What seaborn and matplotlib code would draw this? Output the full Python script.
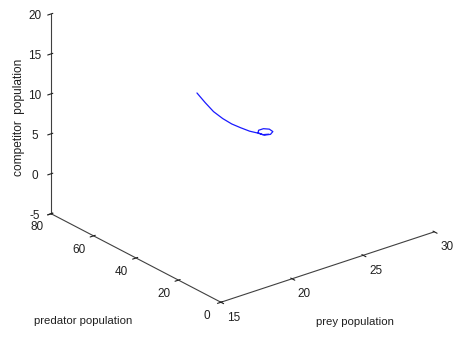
import numpy as np
import pandas as pd
import matplotlib
matplotlib.use("Agg")
import matplotlib.pyplot as plt
import matplotlib.transforms as mtransforms
import seaborn as sns

# trajectory
prey = [19.7, 19.45, 19.27, 19.29, 19.43, 19.70, 20.0, 20.3, 20.52, 20.9, 21.23, 21.28, 21.03, 20.66, 20.43, 20.47, 20.8]
predator = [42.8, 37.2, 32.1, 27.9, 24.6, 22.2, 20.0, 18.7, 16.4, 16.2, 17.3, 19.3, 20.4, 20.2, 18.9, 17.0, 16.4]
competitor = [12.5, 12.2, 11.9, 11.6, 11.3, 11.0, 10.7, 10.5, 10.4, 10.3, 10.3, 10.3, 10.35, 10.4, 10.4, 10.4, 10.35]

prey_ticks = [15, 20, 25, 30]
predator_ticks = [0, 20, 40, 60, 80]
competitor_ticks = [-5, 0, 5, 10, 15, 20]

df = pd.DataFrame({"prey": prey, "predator": predator, "competitor": competitor})

sns.set_style("white")
plt.rcParams['font.family'] = ['Liberation Sans', 'DejaVu Sans']
plt.rcParams['axes.unicode_minus'] = False

fig = plt.figure(figsize=(4.58, 3.39), dpi=100)
ax = fig.add_axes([0.02, 0.124, 1, 1], projection='3d', proj_type='ortho')
ax.view_init(elev=24.5, azim=-128.5)
ax.set_box_aspect((4, 4, 3.22), zoom=1.271)

ax.plot(df["prey"], df["predator"], df["competitor"], color='#1a1aff', lw=0.9)

ax.set_xlim(15, 30)
ax.set_ylim(0, 80)
ax.set_zlim(-5, 20)
ax.set_xticks(prey_ticks)
ax.set_yticks(predator_ticks)
ax.set_zticks(competitor_ticks)
ax.grid(False)
for a in (ax.xaxis, ax.yaxis, ax.zaxis):
    a.set_pane_color((1, 1, 1, 0))
    a.pane.set_edgecolor((1, 1, 1, 0))
    a.line.set_color('#404040')
    a.line.set_linewidth(0.8)
    a._axinfo['tick']['color'] = '#404040'
    a.set_tick_params(labelsize=8.5, colors='#202020')
ax.xaxis.set_tick_params(pad=-2.5)
ax.yaxis.set_tick_params(pad=-2.5)
ax.zaxis.set_tick_params(pad=-2)


def shift_labels(axis, dx, dy):
    """Nudge tick labels of a 3D axis by (dx, dy) pixels."""
    off = mtransforms.ScaledTranslation(dx / 100, dy / 100, fig.dpi_scale_trans)
    orig = axis.get_major_ticks

    def patched(numticks=None):
        ticks = orig(numticks)
        for t in ticks:
            t.label1.set_transform(ax.transData + off)
        return ticks

    axis.get_major_ticks = patched


shift_labels(ax.xaxis, 5, 3)
shift_labels(ax.yaxis, -5, 4)
shift_labels(ax.zaxis, 2, 3)

fig.text(19 / 458, 1 - 117 / 339, "competitor  population", rotation=90,
         ha='center', va='center', fontsize=8.6, color='#202020')
fig.text(83 / 458, 1 - 321 / 339, "predator population",
         ha='center', va='center', fontsize=8.2, color='#202020')
fig.text(355 / 458, 1 - 322 / 339, "prey population",
         ha='center', va='center', fontsize=8.2, color='#202020')

fig.savefig("out.png", dpi=100, facecolor='white')
